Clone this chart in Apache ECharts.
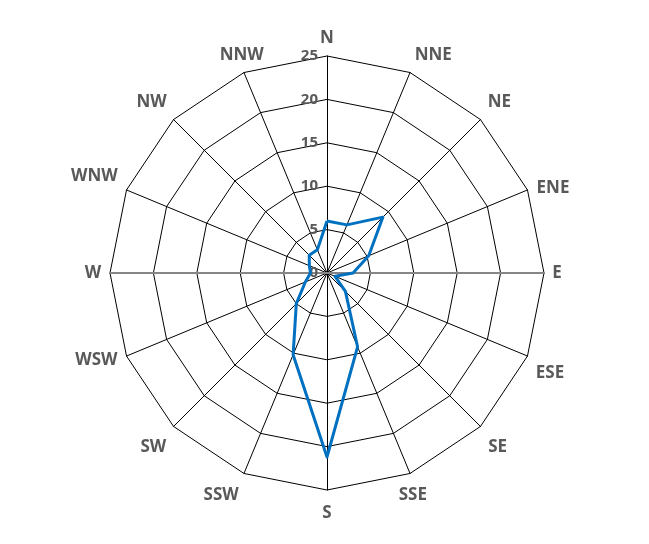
<!DOCTYPE html>
<html>
<head>
<meta charset="utf-8">
<script src="https://cdn.jsdelivr.net/npm/echarts@6/dist/echarts.min.js"></script>
<style>
html,body{margin:0;padding:0;background:#fff;}
#chart{width:649px;height:544px;}
</style>
</head>
<body>
<div id="chart"></div>
<script>
var directions = ['N','NNE','NE','ENE','E','ESE','SE','SSE','S','SSW','SW','WSW','W','WNW','NW','NNW'];
var frequency = [6.0, 6.0, 9.1, 5.2, 3.0, 1.0, 3.0, 9.2, 21.2, 10.2, 5.0, 2.7, 1.9, 2.2, 2.9, 2.9];
var axisMin = 0;
var axisMax = 25;
var tickStep = 5;

// label placement (style only): [gap from outer ring, horizontal nudge] in px
var namePlace = { N: [18, 0], NNE: [19, 16], NE: [24, 2], ENE: [6, 20], E: [24, -11], ESE: [45, -19],
                  SE: [30, -4], SSE: [23, -6], S: [23, 0], SSW: [23, -14], SW: [30, 1],
                  WSW: [11, -20], W: [24, 7], WNW: [37, 2], NW: [24, -5], NNW: [19, 5] };

// ECharts radar runs counter-clockwise; reorder so compass goes clockwise
var order = [0];
for (var k = directions.length - 1; k >= 1; k--) order.push(k);
var dirCW = order.map(function (i) { return directions[i]; });
var freqCW = order.map(function (i) { return frequency[i]; });

var textColor = '#595959';
var nameStyle = { color: textColor, fontFamily: 'Open Sans', fontWeight: 'bold', fontSize: 17,
                  align: 'center', verticalAlign: 'middle' };

var chart = echarts.init(document.getElementById('chart'));
var indicators = dirCW.map(function (d, i) {
  var p = namePlace[d];
  var dx = p[1];
  var pad = [0, Math.max(0, -2 * dx), 0, Math.max(0, 2 * dx)];
  var ind = { name: d, min: axisMin, max: axisMax, nameGap: p[0], nameTextStyle: { padding: pad } };
  if (i === 0) ind.axisLabel = { show: true };
  return ind;
});
var option = {
  backgroundColor: '#fff',
  animation: false,
  radar: [{
    center: [327, 273],
    radius: 217,
    startAngle: 90,
    shape: 'polygon',
    splitNumber: (axisMax - axisMin) / tickStep,
    indicator: indicators,
    axisName: nameStyle,
    nameGap: 24,
    axisLine: { lineStyle: { color: '#000', width: 1 } },
    splitLine: { lineStyle: { color: '#000', width: 1 } },
    splitArea: { show: false },
    axisTick: { show: false },
    axisLabel: { show: false, color: textColor, fontFamily: 'Open Sans', fontWeight: 'bold', fontSize: 15, margin: 9 }
  }, {
    center: [327, 273],
    radius: 217,
    startAngle: 0,
    indicator: [{ name: '', min: axisMin, max: axisMax }, { name: '', min: axisMin, max: axisMax }],
    axisName: { show: false },
    axisLine: { lineStyle: { color: '#868686', width: 2 } },
    splitLine: { show: false },
    splitArea: { show: false },
    axisTick: { show: false },
    axisLabel: { show: false }
  }],
  series: [{
    type: 'radar',
    radarIndex: 0,
    symbol: 'none',
    z: 10,
    lineStyle: { color: '#0070C0', width: 3 },
    data: [{ value: freqCW }]
  }]
};
chart.setOption(option);
</script>
</body>
</html>
